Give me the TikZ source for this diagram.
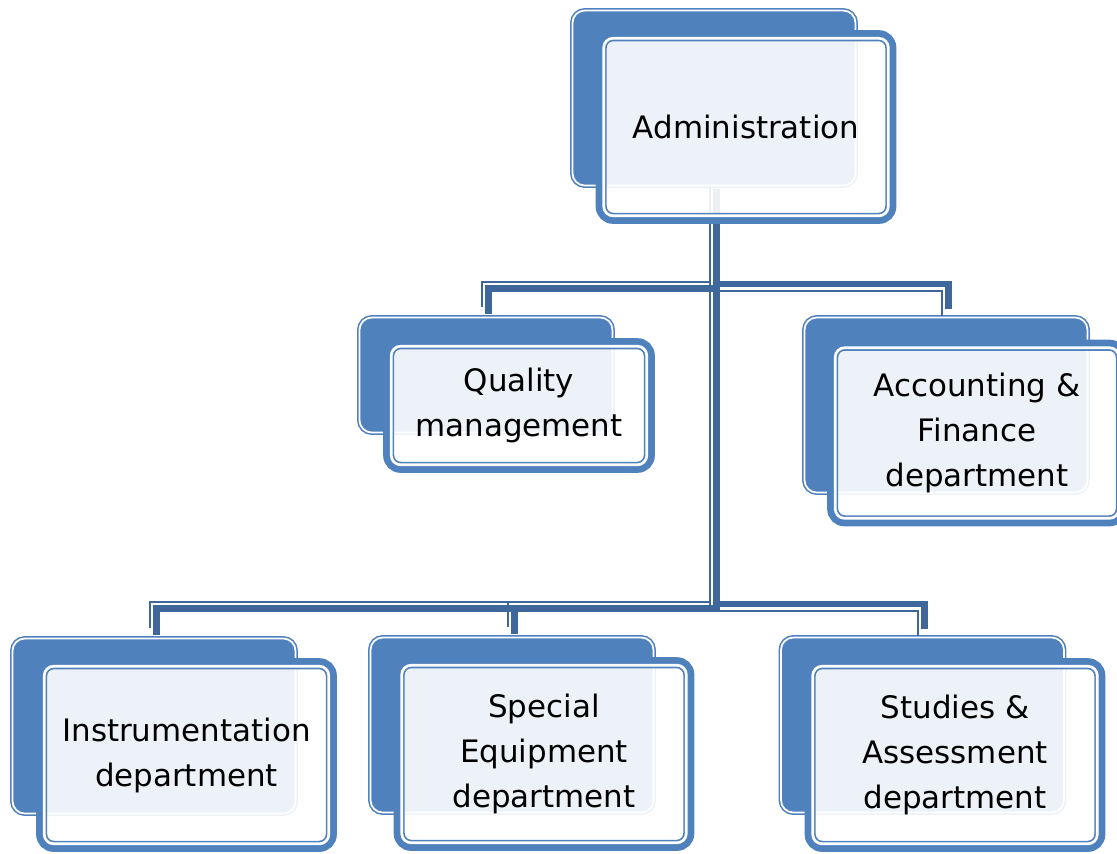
\documentclass[tikz,border=0pt]{standalone}
\usepackage{fontspec}
\setmainfont{DejaVu Sans}
\definecolor{boxblue}{RGB}{79,129,189}
\definecolor{linkblue}{RGB}{62,103,155}
\begin{document}
\begin{tikzpicture}

\tikzset{mybox/.style={rectangle,rounded corners=3.5pt,minimum width=2.83cm,minimum height=1.75cm,inner sep=0pt,fill=boxblue,draw=boxblue,line width=.45pt,double=white,double distance=.5pt},}
\tikzset{mybox2/.style={rectangle,rounded corners=4pt,minimum width=2.94cm,minimum height=1.87cm,inner sep=0pt,outer sep=0pt,fill=white,fill opacity=.9,text opacity=1,draw=boxblue,line width=1.9pt,align=center,text=black,font=\fontsize{8.8}{12.8}\selectfont},}
\tikzset{myframe/.style={draw=boxblue,line width=.48pt,double=white,double distance=.77pt,rounded corners=2.7pt},}
\tikzset{mylink/.style={draw=linkblue,line width=1.95pt,shorten <=1.5pt,shorten >=1.5pt,transform canvas={shift={(.0225,{.0225*(#1)})}}},}
\tikzset{mylink2/.style={draw=linkblue,line width=.6pt,shorten <=1.5pt,shorten >=1.5pt,transform canvas={shift={(-.0425,{-.0425*(#1)})}}},}

\useasboundingbox (0,0) rectangle (11.17,-8.53);
\clip (0,0) rectangle (11.17,-8.53);

%BACK
\draw (7.14,-0.98) node [mybox] (adminb) {};
\draw (4.86,-3.75) node [mybox,minimum width=2.53cm,minimum height=1.15cm] (qualityb) {};
\draw (9.46,-4.05) node [mybox] (accountb) {};
\draw (1.54,-7.26) node [mybox] (instrb) {};
\draw (5.12,-7.25) node [mybox] (specialb) {};
\draw (9.225,-7.25) node [mybox] (studiesb) {};

%LINKS
\draw[mylink=-1] (adminb.south) -- ++(0,-1.0) -| (qualityb.north);
\draw[mylink2=-1] (adminb.south) -- ++(0,-1.0) -| (qualityb.north);
\draw[mylink=1] (adminb.south) -- ++(0,-1.0) -| (accountb.north);
\draw[mylink2=1] (adminb.south) -- ++(0,-1.0) -| (accountb.north);
\draw[mylink=-1] (adminb.south) -- ++(0,-4.2) -| (instrb.north);
\draw[mylink2=-1] (adminb.south) -- ++(0,-4.2) -| (instrb.north);
\draw[mylink=-1] (adminb.south) -- ++(0,-4.2) -| (specialb.north);
\draw[mylink2=-1] (adminb.south) -- ++(0,-4.2) -| (specialb.north);
\draw[mylink=1] (adminb.south) -- ++(0,-4.2) -| (studiesb.north);
\draw[mylink2=1] (adminb.south) -- ++(0,-4.2) -| (studiesb.north);

%FRONT
\draw (7.46,-1.27) node [mybox2] (admin) {Administration};
\draw (5.19,-4.055) node [mybox2,minimum width=2.65cm,minimum height=1.28cm] (quality) {Quality\\management};
\draw (9.77,-4.33) node [mybox2,minimum width=2.93cm,minimum height=1.8cm] (account) {Accounting \&\\Finance\\department};
\draw (1.865,-7.55) node [mybox2] (instr) {Instrumentation\\department};
\draw (5.44,-7.54) node [mybox2] (special) {Special\\Equipment\\department};
\draw (9.55,-7.55) node [mybox2] (studies) {Studies \&\\Assessment\\department};

\draw[myframe] ([shift={(1.335pt,1.335pt)}]admin.south west) rectangle ([shift={(-1.335pt,-1.335pt)}]admin.north east);
\draw[myframe] ([shift={(1.335pt,1.335pt)}]quality.south west) rectangle ([shift={(-1.335pt,-1.335pt)}]quality.north east);
\draw[myframe] ([shift={(1.335pt,1.335pt)}]account.south west) rectangle ([shift={(-1.335pt,-1.335pt)}]account.north east);
\draw[myframe] ([shift={(1.335pt,1.335pt)}]instr.south west) rectangle ([shift={(-1.335pt,-1.335pt)}]instr.north east);
\draw[myframe] ([shift={(1.335pt,1.335pt)}]special.south west) rectangle ([shift={(-1.335pt,-1.335pt)}]special.north east);
\draw[myframe] ([shift={(1.335pt,1.335pt)}]studies.south west) rectangle ([shift={(-1.335pt,-1.335pt)}]studies.north east);

\end{tikzpicture}
\end{document}
